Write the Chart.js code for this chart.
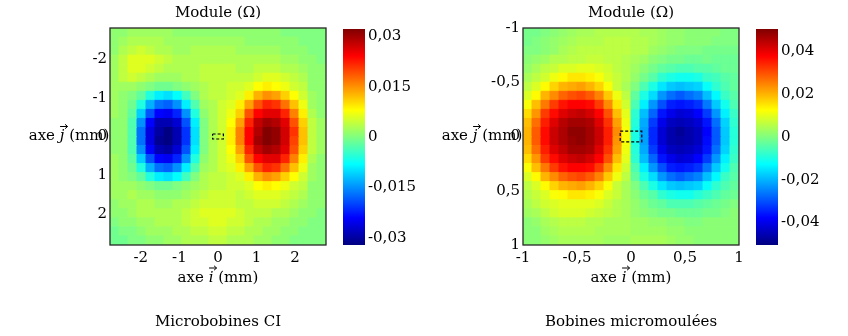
<!DOCTYPE html>
<html><head><meta charset="utf-8">
<script src="https://cdn.jsdelivr.net/npm/chart.js@4/dist/chart.umd.min.js"></script>
<style>
html,body{margin:0;padding:0;background:#fff;}
#wrap{position:relative;width:848px;height:336px;overflow:hidden;}
#wrap canvas{position:absolute;left:0;top:0;}
</style></head><body>
<div id="wrap">
<canvas id="hL" width="848" height="336"></canvas>
<canvas id="cL" width="848" height="336"></canvas>
<canvas id="hR" width="848" height="336"></canvas>
<canvas id="cR" width="848" height="336"></canvas>
</div>
<script>
// ---------- DATA ----------
// Module (mΩ) read from the maps; rows from top (j = -extent) to bottom (j = +extent), columns from i = -extent to +extent
const ciExtent = 2.8;   // mm, "Microbobines CI"
const ciModule = [
[1,1,2,2,2,2,2,1,1,1,1,1,1,1,1,1,1,1,1,0,0,0,0,0],
[1,2,3,3,3,3,2,2,2,2,2,2,2,2,2,1,1,1,1,1,1,0,0,0],
[1,3,4,5,4,3,3,2,2,3,3,3,3,3,2,2,2,2,2,1,1,1,0,0],
[2,4,6,6,6,5,4,3,3,3,3,3,3,3,3,3,3,3,3,2,2,1,1,0],
[2,4,6,6,5,4,3,3,3,3,4,4,4,4,3,3,4,4,4,3,3,2,1,1],
[2,4,5,4,3,2,2,2,3,3,4,4,4,4,4,4,5,6,6,5,4,3,1,1],
[2,2,2,1,0,-1,-1,0,1,2,3,4,4,5,5,6,8,9,8,7,5,4,1,1],
[2,1,0,-2,-6,-9,-10,-8,-4,0,3,4,4,5,6,9,13,15,14,11,8,5,2,1],
[2,1,-1,-6,-13,-17,-18,-15,-9,-3,2,3,5,6,9,14,19,22,21,17,12,7,2,1],
[2,1,-2,-11,-19,-24,-25,-22,-15,-6,1,3,5,7,11,19,24,26,26,22,16,9,3,1],
[1,1,-3,-15,-24,-29,-29,-27,-19,-9,0,3,5,8,14,22,28,30,29,26,19,11,4,2],
[1,1,-3,-17,-26,-30,-32,-29,-21,-10,0,3,5,9,16,24,29,32,31,27,21,12,4,2],
[1,1,-3,-17,-26,-31,-32,-29,-21,-10,0,3,5,9,16,24,30,32,31,27,20,12,4,2],
[1,1,-3,-15,-24,-29,-30,-27,-19,-9,0,3,5,8,14,22,28,30,29,26,19,11,4,2],
[2,1,-2,-11,-19,-24,-25,-22,-15,-6,1,3,5,7,11,19,24,26,26,22,16,9,3,1],
[2,1,-1,-6,-13,-17,-18,-15,-9,-3,2,3,5,6,9,14,19,22,21,17,12,7,2,1],
[2,1,0,-2,-6,-9,-10,-8,-4,0,3,4,4,5,6,9,13,15,14,11,8,5,2,1],
[2,2,2,1,0,-1,-1,0,1,2,3,4,4,5,5,6,8,9,8,7,5,4,1,1],
[2,2,3,2,2,1,1,1,2,3,4,5,5,5,4,5,6,6,6,5,4,3,1,1],
[1,2,2,3,3,2,2,3,3,4,5,5,5,5,4,4,5,5,5,4,3,2,1,1],
[1,1,2,3,3,3,3,3,4,5,6,6,6,6,5,4,4,4,3,3,2,1,1,0],
[0,1,1,2,2,3,3,3,4,5,5,6,6,5,5,4,3,3,2,2,1,1,0,0],
[-1,0,0,1,2,2,2,3,3,4,4,5,5,4,4,3,3,2,2,1,1,0,0,0],
[-1,-1,0,0,1,1,2,2,3,3,3,4,4,3,3,3,2,2,1,1,0,0,0,0]
];
const mmExtent = 1.0;   // mm, "Bobines micromoulées"
const mmModule = [
[-1,-1,0,1,2,3,4,4,5,5,5,5,5,4,4,3,2,2,1,1,1,1,0,0],
[-1,0,1,2,3,4,5,5,5,6,6,6,5,5,4,3,2,2,1,1,1,0,0,0],
[0,0,1,2,4,5,6,6,6,6,6,6,5,5,3,2,1,0,0,0,-1,-1,-1,-1],
[1,2,3,5,5,6,6,7,7,6,6,5,4,3,1,0,-1,-1,-2,-2,-1,-2,-2,-2],
[2,4,6,7,9,9,10,10,9,8,6,5,3,1,-1,-3,-4,-5,-5,-4,-4,-3,-2,-2],
[4,6,8,11,13,15,15,14,12,9,7,5,2,-1,-4,-8,-10,-11,-11,-10,-7,-6,-4,-3],
[6,9,13,17,20,21,22,20,17,12,7,4,0,-5,-10,-15,-18,-19,-18,-17,-12,-8,-5,-3],
[9,13,20,24,28,30,31,29,25,18,11,6,-3,-10,-16,-23,-27,-29,-27,-25,-19,-13,-7,-4],
[12,19,26,32,36,38,38,37,32,24,15,8,-5,-14,-23,-30,-35,-36,-35,-33,-26,-18,-11,-5],
[16,23,32,37,41,43,44,42,38,30,19,10,-8,-19,-28,-36,-40,-42,-41,-38,-32,-23,-14,-7],
[19,27,35,41,45,47,47,46,41,33,22,11,-9,-21,-32,-40,-44,-45,-44,-42,-36,-27,-17,-8],
[20,29,37,43,46,49,49,47,43,35,24,12,-10,-22,-34,-42,-46,-48,-46,-44,-38,-29,-18,-9],
[20,29,37,43,46,48,49,47,43,35,23,12,-10,-22,-34,-42,-46,-47,-46,-44,-37,-29,-18,-9],
[19,27,35,41,44,47,47,46,41,33,22,11,-9,-21,-32,-40,-44,-45,-44,-42,-36,-27,-17,-8],
[16,23,32,37,41,43,44,42,38,30,19,10,-8,-19,-28,-36,-40,-42,-41,-38,-32,-23,-14,-7],
[12,19,26,32,36,38,38,37,32,24,15,8,-5,-14,-23,-30,-35,-36,-35,-33,-26,-18,-11,-5],
[9,13,20,24,28,30,31,29,25,18,11,6,-3,-10,-16,-23,-27,-29,-27,-25,-19,-13,-7,-4],
[6,9,13,17,20,21,22,20,17,12,7,4,0,-5,-10,-15,-18,-19,-18,-17,-12,-8,-5,-3],
[5,7,9,12,13,15,15,14,12,9,7,4,1,-2,-4,-8,-10,-11,-11,-9,-7,-5,-3,-2],
[4,6,8,9,10,10,10,10,9,7,5,4,2,0,-2,-3,-5,-5,-5,-4,-3,-2,-1,0],
[3,4,6,8,9,9,9,8,7,6,5,4,2,1,0,-1,-1,-2,-2,-2,-1,-1,0,1],
[1,2,4,5,6,6,6,5,5,4,4,4,3,3,2,2,1,1,0,0,1,1,1,1],
[1,1,3,4,5,5,5,5,4,4,4,4,3,3,3,3,2,2,1,1,1,1,1,1],
[1,1,2,3,4,4,4,4,4,3,3,3,4,4,4,4,3,2,2,1,1,1,1,1]
];
// axis ticks
const ciTicks = [-2,-1,0,1,2];
const ciTickLabels = ['-2','-1','0','1','2'];
const mmTicks = [-1,-0.5,0,0.5,1];
const mmTickLabels = ['-1','-0,5','0','0,5','1'];
// colour bars (Ω)
const ciRange = [-0.0322, 0.0322];
const ciBarTicks = [-0.03,-0.015,0,0.015,0.03];
const ciBarLabels = ['-0,03','-0,015','0','0,015','0,03'];
const mmRange = [-0.0505, 0.0505];
const mmBarTicks = [-0.04,-0.02,0,0.02,0.04];
const mmBarLabels = ['-0,04','-0,02','0','0,02','0,04'];
// sensor outline (dashed box), [iMin, iMax, jMin, jMax] in mm
const ciSensor = [-0.14, 0.14, -0.065, 0.065];
const mmSensor = [-0.1, 0.1, -0.05, 0.05];
const captions = ['Microbobines CI', 'Bobines micromoulées'];
const xTitle = ['axe ', 'i', ' (mm)'];
const yTitle = ['axe ', 'j', ' (mm)'];

// ---------- RENDERING ----------
const FONT = "'DejaVu Serif', 'Liberation Serif', serif";
Chart.defaults.color = '#000';
Chart.defaults.font.family = FONT;
Chart.defaults.font.size = 15;

function jet(t) {
  t = Math.min(1, Math.max(0, t));
  const f = a => Math.round(255 * Math.min(1, Math.max(0, 1.5 - Math.abs(4 * t - a))));
  return 'rgb(' + f(3) + ',' + f(2) + ',' + f(1) + ')';
}

function cellPoints(matrix, ext) {
  const rows = matrix.length, cols = matrix[0].length;
  const sx = 2 * ext / cols, sy = 2 * ext / rows;
  const pts = [];
  for (let k = 0; k < rows; k++)
    for (let i = 0; i < cols; i++)
      pts.push({x: -ext + (i + 0.5) * sx, y: -ext + (k + 0.5) * sy, v: matrix[k][i] / 1000});
  return {pts, sx};
}

function boxPoints(b) {
  return [{x:b[0],y:b[2]},{x:b[1],y:b[2]},{x:b[1],y:b[3]},{x:b[0],y:b[3]},{x:b[0],y:b[2]}];
}

const framePlugin = {
  id: 'frame',
  afterDatasetsDraw(chart) {
    const {ctx, chartArea: a} = chart;
    ctx.save();
    ctx.strokeStyle = '#262626';
    ctx.lineWidth = 1.3;
    ctx.strokeRect(a.left, a.top, a.right - a.left, a.bottom - a.top);
    ctx.restore();
  }
};

// axis titles with a vector arrow over the italic letter
function drawVecTitle(ctx, parts, cx, cy) {
  const fN = '15px ' + FONT, fI = 'italic 15px ' + FONT;
  ctx.font = fN; const w0 = ctx.measureText(parts[0]).width, w2 = ctx.measureText(parts[2]).width;
  ctx.font = fI; const w1 = ctx.measureText(parts[1]).width;
  let x = cx - (w0 + w1 + w2) / 2;
  ctx.textAlign = 'left'; ctx.textBaseline = 'middle'; ctx.fillStyle = '#000';
  ctx.font = fN; ctx.fillText(parts[0], x, cy); x += w0;
  ctx.font = fI; ctx.fillText(parts[1], x, cy);
  const lx = x + w1 / 2 + 1.5, ay = cy - 10;
  ctx.strokeStyle = '#000'; ctx.lineWidth = 1;
  ctx.beginPath();
  ctx.moveTo(lx - 3.5, ay); ctx.lineTo(lx + 4, ay);
  ctx.moveTo(lx + 1.5, ay - 2.2); ctx.lineTo(lx + 4, ay); ctx.lineTo(lx + 1.5, ay + 2.2);
  ctx.stroke();
  x += w1;
  ctx.font = fN; ctx.fillText(parts[2], x, cy);
}
const axisTitlePlugin = {
  id: 'axtitles',
  afterDraw(chart, args, o) {
    const {ctx, chartArea: a} = chart;
    ctx.save();
    drawVecTitle(ctx, o.x, (a.left + a.right) / 2, a.bottom + 33);
    drawVecTitle(ctx, o.y, a.left - 41, (a.top + a.bottom) / 2);
    ctx.restore();
  }
};

function heatChart(id, matrix, ext, range, ticks, labels, sensor, caption, padL, padR) {
  const {pts, sx} = cellPoints(matrix, ext);
  const lab = (v) => { const i = ticks.findIndex(t => Math.abs(t - v) < 1e-9); return i < 0 ? '' : labels[i]; };
  return new Chart(document.getElementById(id), {
    type: 'scatter',
    data: {datasets: [
      {data: boxPoints(sensor), showLine: true, borderColor: '#000', borderWidth: 1.2, borderDash: [3, 2],
       pointRadius: 0, fill: false, order: 0},
      {data: pts, pointStyle: 'rect', order: 1,
       pointRadius: (c) => { const s = c.chart.scales.x; return Math.abs(s.getPixelForValue(sx) - s.getPixelForValue(0)) / Math.SQRT2; },
       pointBackgroundColor: (c) => jet((c.raw.v - range[0]) / (range[1] - range[0])),
       pointBorderColor: (c) => jet((c.raw.v - range[0]) / (range[1] - range[0])),
       pointBorderWidth: 1}
    ]},
    options: {
      responsive: false, animation: false, events: [],
      layout: {padding: {left: padL, right: padR, top: 0, bottom: 0}},
      scales: {
        x: {type: 'linear', min: -ext, max: ext,
            grid: {display: false, drawTicks: false}, border: {display: false},
            afterBuildTicks: s => { s.ticks = ticks.map(v => ({value: v})); },
            afterFit: s => { s.height = 50; },
            ticks: {callback: v => lab(v), padding: 4, maxRotation: 0, autoSkip: false}},
        y: {type: 'linear', reverse: true, min: -ext, max: ext,
            grid: {display: false, drawTicks: false}, border: {display: false},
            afterBuildTicks: s => { s.ticks = ticks.map(v => ({value: v})); },
            afterFit: s => { s.width = 40; },
            ticks: {callback: v => lab(v), padding: 3, autoSkip: false}}
      },
      plugins: {
        legend: {display: false}, tooltip: {enabled: false},
        title: {display: true, text: 'Module (Ω)', fullSize: false, padding: {top: 4, bottom: 6},
                font: {size: 15, weight: 'normal'}},
        subtitle: {display: true, text: caption, position: 'bottom', fullSize: false,
                   padding: {top: 18, bottom: 5}, font: {size: 15, weight: 'normal'}},
        axtitles: {x: xTitle, y: yTitle}
      }
    },
    plugins: [framePlugin, axisTitlePlugin]
  });
}

function barChart(id, range, ticks, labels, padL, padR) {
  const lab = (v) => { const i = ticks.findIndex(t => Math.abs(t - v) < 1e-9); return i < 0 ? '' : labels[i]; };
  return new Chart(document.getElementById(id), {
    type: 'bar',
    data: {labels: [''], datasets: [{
      data: [[range[0], range[1]]], borderWidth: 0, barPercentage: 1, categoryPercentage: 1,
      backgroundColor: (c) => {
        const ch = c.chart; if (!ch.chartArea) return 'rgba(0,0,0,0)';
        const y = ch.scales.y;
        const g = ch.ctx.createLinearGradient(0, y.getPixelForValue(range[0]), 0, y.getPixelForValue(range[1]));
        for (let s = 0; s <= 32; s++) g.addColorStop(s / 32, jet(s / 32));
        return g;
      }
    }]},
    options: {
      responsive: false, animation: false, events: [],
      layout: {padding: {left: padL, right: padR, top: 29, bottom: 91}},
      scales: {
        x: {display: false},
        y: {position: 'right', min: range[0], max: range[1],
            grid: {display: false, drawTicks: false}, border: {display: false},
            afterBuildTicks: s => { s.ticks = ticks.map(v => ({value: v})); },
            afterFit: s => { s.width = 70; },
            ticks: {callback: v => lab(v), padding: 3, autoSkip: false}}
      },
      plugins: {legend: {display: false}, tooltip: {enabled: false}}
    }
  });
}

heatChart('hL', ciModule, ciExtent, ciRange, ciTicks, ciTickLabels, ciSensor, captions[0], 70, 848 - 326);
barChart('cL', ciRange, ciBarTicks, ciBarLabels, 343, 848 - 365 - 70);
heatChart('hR', mmModule, mmExtent, mmRange, mmTicks, mmTickLabels, mmSensor, captions[1], 523 - 40, 848 - 739);
barChart('cR', mmRange, mmBarTicks, mmBarLabels, 756, 848 - 778 - 70);
</script>
</body></html>
